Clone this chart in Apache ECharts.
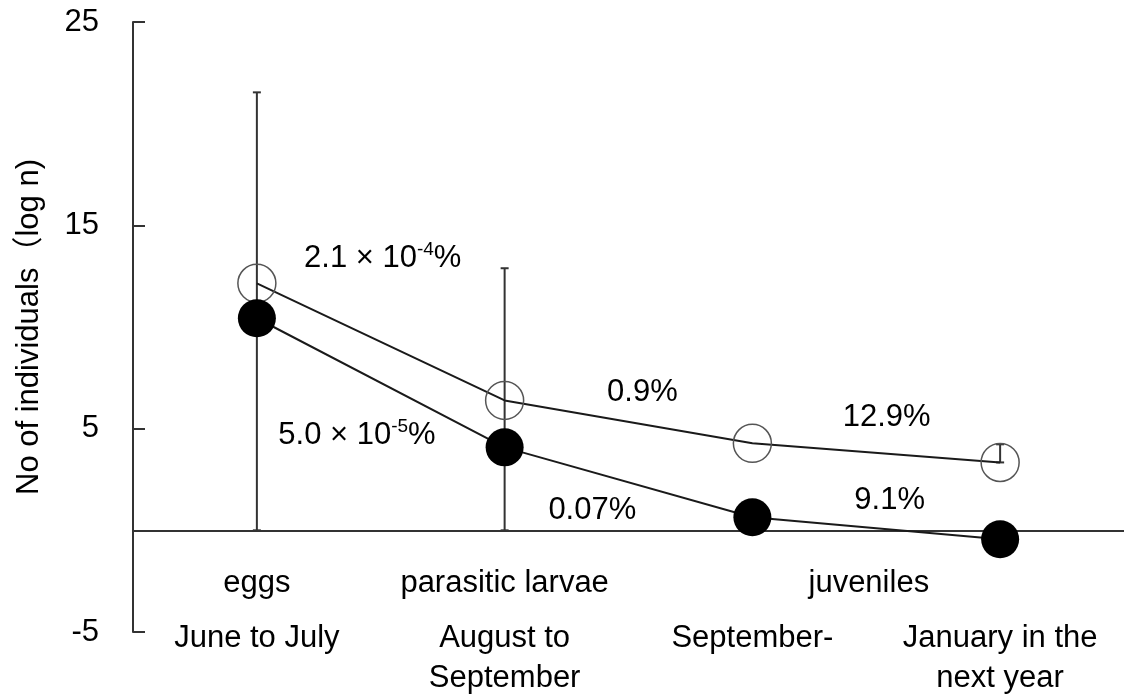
<!DOCTYPE html>
<html>
<head>
<meta charset="utf-8">
<script src="https://cdn.jsdelivr.net/npm/echarts@6/dist/echarts.min.js"></script>
<style>
  html, body { margin: 0; padding: 0; background: #ffffff; }
  #chart { width: 1124px; height: 698px; }
</style>
</head>
<body>
<div id="chart"></div>
<script>
// ---- data ----
const periods = ['June to July', 'August to\nSeptember', 'September-', 'January in the\nnext year'];
const stages = ['eggs', 'parasitic larvae', 'juveniles'];
const stagePositions = [1, 2, 3.47];   // position along the period axis (1 = first period)
const totalMean = [12.15, 6.39, 4.28, 3.34];      // open circles
const survivedMean = [10.43, 4.08, 0.64, -0.44];  // filled circles
const errHigh = [21.54, 12.89, null, 4.23];
const errLow = [0, 0, null, 3.34];
const yTicks = { min: -5, max: 25, interval: 10 };
const annotLabels = ['2.1 × 10^-4%', '5.0 × 10^-5%', '0.9%', '0.07%', '12.9%', '9.1%'];
const annotX = [1.508, 1.404, 2.556, 2.354, 3.542, 3.554];
const annotY = [13.38, 4.67, 6.79, 0.98, 5.56, 1.48];

const FONT = '"Liberation Sans", Arial, "Noto Sans CJK SC", sans-serif';
const FS = 31;
const GRID = { left: 133, right: 0, top: 22, bottom: 66 };

function richAnnot(t) {
  const m = t.match(/^(.*?) × 10\^(-?\d+)(%)$/);
  if (m) return '{n|' + m[1] + '}{n| × 10}{s|' + m[2] + '}{n|' + m[3] + '}';
  return '{n|' + t + '}';
}

const el = document.getElementById('chart');
const chart = echarts.init(el, null, { renderer: 'canvas' });
const catWidth = (chart.getWidth() - GRID.left - GRID.right) / periods.length;

// stage label offset (for a stage placed between periods)
let shiftPad = 0;
stagePositions.forEach((p, i) => {
  const idx = Math.floor(p + 1e-9) - 1;
  const off = (p - (idx + 1)) * catWidth;
  if (off > 0.5) shiftPad = 2 * off;
});

const errData = [];
errHigh.forEach((h, i) => { if (h != null) errData.push([i, errLow[i], h]); });

const option = {
  backgroundColor: '#ffffff',
  animation: false,
  textStyle: { fontFamily: FONT, color: '#000' },
  grid: Object.assign({ containLabel: false, outerBoundsMode: 'none' }, GRID),
  xAxis: [
    {
      type: 'category',
      data: periods,
      boundaryGap: true,
      axisLine: { show: true, onZero: true, lineStyle: { color: '#333', width: 2 } },
      axisTick: { show: false },
      splitLine: { show: false },
      axisLabel: {
        interval: 0,
        hideOverlap: false,
        margin: -84,
        color: '#000',
        fontFamily: FONT,
        formatter: function (value, index) {
          const sIdx = stagePositions.findIndex(p => Math.floor(p + 1e-9) - 1 === index);
          let top = '{a| }';
          if (sIdx >= 0) {
            const off = (stagePositions[sIdx] - (index + 1)) * catWidth;
            top = (off > 0.5 ? '{j|' : '{a|') + stages[sIdx] + '}';
          }
          const lines = periods[index].split('\n').map(l => '{b|' + l + '}');
          return [top].concat(lines).join('\n');
        },
        rich: {
          a: { fontSize: FS, lineHeight: 70, color: '#000', fontFamily: FONT },
          j: { fontSize: FS, lineHeight: 70, color: '#000', fontFamily: FONT, padding: [0, 0, 0, shiftPad] },
          b: { fontSize: FS, lineHeight: 40, color: '#000', fontFamily: FONT }
        }
      }
    },
    {
      type: 'value',
      min: 0.5,
      max: 4.5,
      position: 'bottom',
      show: true,
      axisLine: { show: false, onZero: false },
      axisTick: { show: false },
      splitLine: { show: false },
      axisLabel: { show: false }
    }
  ],
  yAxis: {
    type: 'value',
    min: yTicks.min,
    max: yTicks.max,
    interval: yTicks.interval,
    axisLine: { show: true, onZero: false, lineStyle: { color: '#333', width: 2 } },
    axisTick: { show: true, inside: true, length: 12, lineStyle: { color: '#333', width: 2 } },
    splitLine: { show: false },
    axisLabel: { fontSize: FS, color: '#000', margin: 34, fontFamily: FONT },
    name: 'No of individuals（log n)',
    nameLocation: 'middle',
    nameGap: 88,
    nameTextStyle: { fontSize: FS, color: '#000', fontFamily: FONT }
  },
  series: [
    {
      type: 'custom',
      name: 'error',
      xAxisIndex: 0,
      yAxisIndex: 0,
      z: 1,
      silent: true,
      encode: { x: 0, y: [1, 2] },
      data: errData,
      renderItem: function (params, api) {
        const x = api.value(0);
        const lo = api.coord([x, api.value(1)]);
        const hi = api.coord([x, api.value(2)]);
        const cap = 4;
        const style = { stroke: '#333', lineWidth: 2, fill: null };
        return {
          type: 'group',
          children: [
            { type: 'line', shape: { x1: lo[0], y1: lo[1], x2: hi[0], y2: hi[1] }, style: style },
            { type: 'line', shape: { x1: hi[0] - cap, y1: hi[1], x2: hi[0] + cap, y2: hi[1] }, style: style },
            { type: 'line', shape: { x1: lo[0] - cap, y1: lo[1], x2: lo[0] + cap, y2: lo[1] }, style: style }
          ]
        };
      }
    },
    {
      type: 'line',
      name: 'total',
      xAxisIndex: 0,
      yAxisIndex: 0,
      z: 2,
      data: totalMean,
      symbol: 'circle',
      symbolSize: 38,
      silent: true,
      itemStyle: { color: 'rgba(255,255,255,0)', borderColor: '#555', borderWidth: 1.5 },
      lineStyle: { color: '#1a1a1a', width: 2 },
      emphasis: { disabled: true }
    },
    {
      type: 'line',
      name: 'survived',
      xAxisIndex: 0,
      yAxisIndex: 0,
      z: 3,
      data: survivedMean,
      symbol: 'circle',
      symbolSize: 38,
      silent: true,
      itemStyle: { color: '#000', borderColor: '#000', borderWidth: 0 },
      lineStyle: { color: '#1a1a1a', width: 2 },
      emphasis: { disabled: true }
    },
    {
      type: 'scatter',
      name: 'rates',
      xAxisIndex: 1,
      yAxisIndex: 0,
      z: 4,
      silent: true,
      symbolSize: 0,
      itemStyle: { color: '#000', opacity: 1 },
      data: annotX.map((x, i) => [x, annotY[i]]),
      label: {
        show: true,
        position: [0, 0],
        align: 'center',
        verticalAlign: 'middle',
        color: '#000',
        opacity: 1,
        textBorderWidth: 0,
        formatter: function (p) { return richAnnot(annotLabels[p.dataIndex]); },
        rich: {
          n: { fontSize: FS, lineHeight: 36, color: '#000', fontFamily: FONT, textBorderWidth: 0 },
          s: { fontSize: 19, lineHeight: 36, color: '#000', fontFamily: FONT, verticalAlign: 'top', textBorderWidth: 0 }
        }
      }
    }
  ]
};

chart.setOption(option);
</script>
</body>
</html>
